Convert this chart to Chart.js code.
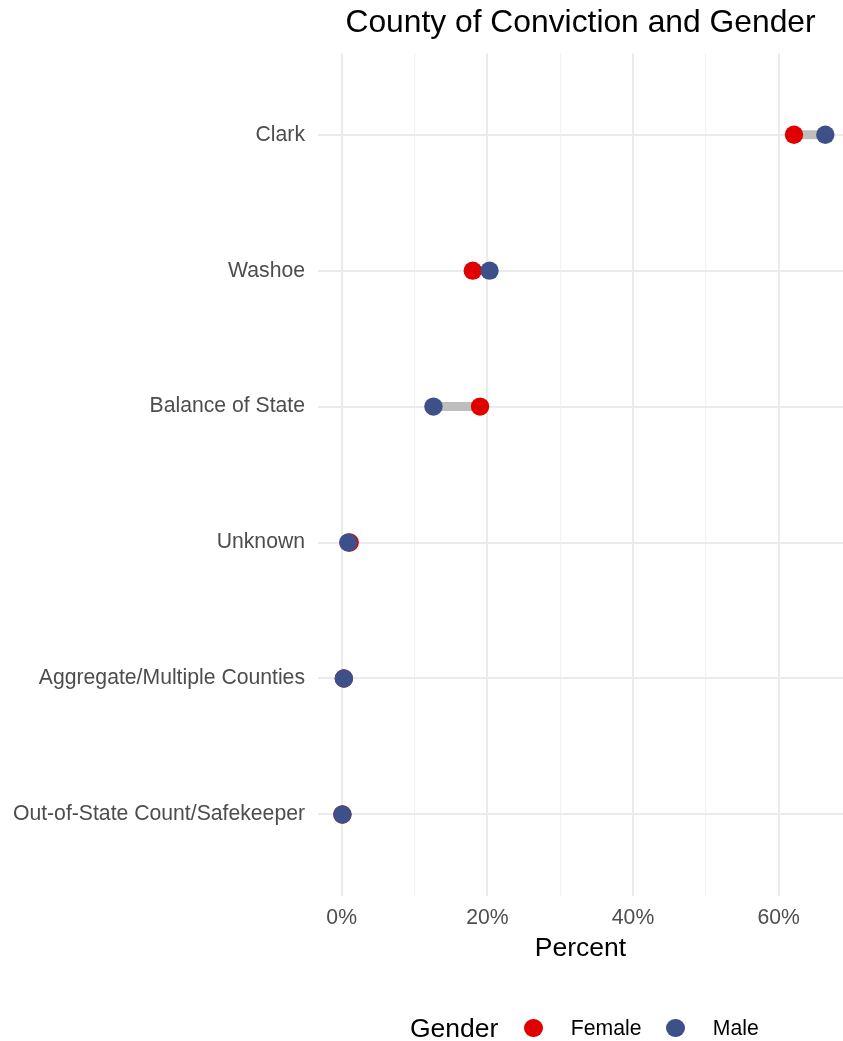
<!DOCTYPE html>
<html>
<head>
<meta charset="utf-8">
<title>County of Conviction and Gender</title>
<script src="https://cdn.jsdelivr.net/npm/chart.js@4.4.0/dist/chart.umd.min.js"></script>
<style>
  body { margin: 0; background: #fff; font-family: "Liberation Sans", Arial, sans-serif; }
  .wrap { position: relative; width: 843px; height: 1041px; }
  #legend {
    position: absolute; left: 410px; top: 1012px; height: 32px;
    display: flex; align-items: center; color: #000;
  }
  #legend .title { font-size: 26.5px; margin-right: 26px; }
  #legend .dot { width: 18.4px; height: 18.4px; border-radius: 50%; margin-right: 28px; }
  #legend .lbl { font-size: 21.2px; margin-right: 25px; }
</style>
</head>
<body>
<div class="wrap">
  <canvas id="dumbbellChart" width="843" height="1041"></canvas>
  <div id="legend"></div>
</div>
<script>
// categories, top to bottom
const counties = [
  'Clark', 'Washoe', 'Balance of State', 'Unknown',
  'Aggregate/Multiple Counties', 'Out-of-State Count/Safekeeper'
];
// percent of each gender convicted in that county
const femalePct = [62.1, 18.0, 19.0, 1.1, 0.3, 0.1];
const malePct = [66.4, 20.3, 12.6, 0.9, 0.3, 0.1];

const xTicks = [0, 10, 20, 30, 40, 50, 60];
const xLabelEvery = 20; // only label the major ticks

const femaleColor = '#E00000';
const maleColor = '#3E5089';
const fontFamily = '"Liberation Sans", Arial, sans-serif';

// grey bar between the two dots
const segments = counties.map((name, i) => ({
  label: name,
  data: [{x: femalePct[i], y: i}, {x: malePct[i], y: i}],
  showLine: true,
  borderColor: '#BEBEBE',
  borderWidth: 9,
  borderCapStyle: 'butt',
  pointRadius: 0,
  pointHoverRadius: 0,
  order: 2,
}));

const femaleSet = {
  label: 'Female',
  data: femalePct.map((v, i) => ({x: v, y: i})),
  backgroundColor: femaleColor,
  pointRadius: 9.2,
  pointHoverRadius: 9.2,
  pointBorderWidth: 0,
  order: 1,
};

const maleSet = {
  label: 'Male',
  data: malePct.map((v, i) => ({x: v, y: i})),
  backgroundColor: maleColor,
  pointRadius: 9.2,
  pointHoverRadius: 9.2,
  pointBorderWidth: 0,
  order: 0,
};

const ctx = document.getElementById('dumbbellChart').getContext('2d');

const chart = new Chart(ctx, {
  type: 'scatter',
  data: {
    datasets: [...segments, femaleSet, maleSet],
  },
  options: {
    responsive: false,
    animation: false,
    layout: {
      autoPadding: false, // otherwise the point radius eats into the right edge
      padding: {left: 0, right: 0, top: 0, bottom: 70},
    },
    plugins: {
      legend: {display: false},
      tooltip: {enabled: false},
      title: {
        display: true,
        text: 'County of Conviction and Gender',
        fullSize: false,
        color: '#000',
        font: {family: fontFamily, size: 31.8, weight: 'normal'},
        padding: {top: 4, bottom: 11},
      },
    },
    scales: {
      x: {
        type: 'linear',
        min: -3.25,
        max: 68.83,
        afterBuildTicks: (scale) => {
          scale.ticks = xTicks.map(v => ({value: v}));
        },
        afterFit: (scale) => {
          scale.height = 75;
          scale.paddingLeft = 0;
          scale.paddingRight = 0;
        },
        border: {display: false},
        grid: {
          drawTicks: false,
          color: (c) => (c.tick && c.tick.value % xLabelEvery === 0) ? '#EBEBEB' : '#F2F2F2',
          lineWidth: (c) => (c.tick && c.tick.value % xLabelEvery === 0) ? 2 : 1.2,
        },
        ticks: {
          padding: 9,
          color: '#4D4D4D',
          font: {family: fontFamily, size: 21.2},
          callback: (v) => v % xLabelEvery === 0 ? v + '%' : '',
        },
        title: {
          display: true,
          text: 'Percent',
          color: '#000',
          font: {family: fontFamily, size: 26.5},
          padding: {top: 0, bottom: 6},
        },
      },
      y: {
        type: 'linear',
        reverse: true,
        min: -0.6,
        max: counties.length - 0.4,
        afterBuildTicks: (scale) => {
          scale.ticks = counties.map((c, i) => ({value: i}));
        },
        afterFit: (scale) => {
          scale.width = 318;
          scale.paddingTop = 0;
          scale.paddingBottom = 0;
        },
        border: {display: false},
        grid: {
          drawTicks: false,
          color: '#EBEBEB',
          lineWidth: 2,
        },
        ticks: {
          padding: 13,
          color: '#4D4D4D',
          font: {family: fontFamily, size: 21.2},
          callback: (v) => counties[v],
        },
      },
    },
  },
});

// legend row under the plot, colours taken from the chart
const legendEl = document.getElementById('legend');
const title = document.createElement('span');
title.className = 'title';
title.textContent = 'Gender';
legendEl.appendChild(title);
[femaleSet, maleSet].forEach(ds => {
  const dot = document.createElement('span');
  dot.className = 'dot';
  dot.style.background = ds.backgroundColor;
  const lbl = document.createElement('span');
  lbl.className = 'lbl';
  lbl.textContent = ds.label;
  legendEl.appendChild(dot);
  legendEl.appendChild(lbl);
});
</script>
</body>
</html>
